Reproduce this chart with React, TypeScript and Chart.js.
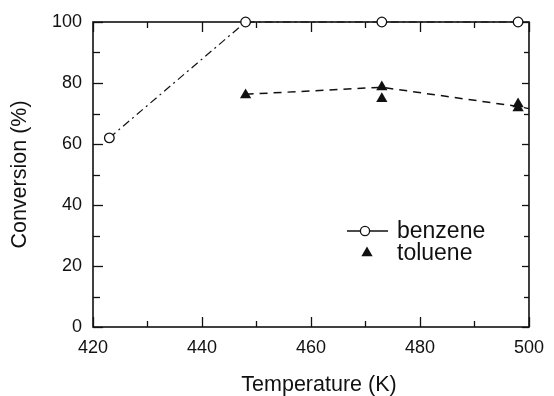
import React, { useEffect, useRef } from "react";
import { Chart, registerables } from "chart.js";

Chart.register(...registerables);

const benzeneTemps = [423, 448, 473, 498];
const benzeneConv = [62, 100, 100, 100];
const tolueneTemps = [448, 473, 473, 498, 498];
const tolueneConv = [76.1, 78.7, 74.8, 73.1, 71.8];
const tolueneFitTemps = [448, 473, 498, 500];
const tolueneFitConv = [76.3, 78.6, 72.3, 71.6];
const xTicks = [420, 440, 460, 480, 500];
const yTicks = [0, 20, 40, 60, 80, 100];
const xMinorTicks = [430, 450, 470, 490];
const yMinorTicks = [10, 30, 50, 70, 90];
const xTitle = "Temperature (K)";
const yTitle = "Conversion (%)";
const seriesNames = ["benzene", "toluene"];

const FONT = "'Liberation Sans', Arial, Helvetica, sans-serif";
const INK = "#111";

export default function App() {
  const ref = useRef<HTMLCanvasElement>(null);

  useEffect(() => {
    const canvas = ref.current;
    if (!canvas) return;

    const frame = {
      id: "frame",
      beforeDatasetsDraw(chart: any) {
        const { ctx, chartArea: ca, scales } = chart;
        const xs = scales.x;
        const ys = scales.y;
        ctx.save();
        ctx.strokeStyle = INK;
        ctx.lineWidth = 1.6;
        ctx.strokeRect(ca.left, ca.top, ca.right - ca.left, ca.bottom - ca.top);
        ctx.lineWidth = 1.3;
        const tick = (x1: number, y1: number, x2: number, y2: number) => {
          ctx.beginPath();
          ctx.moveTo(x1, y1);
          ctx.lineTo(x2, y2);
          ctx.stroke();
        };
        const xs2 = [...xTicks.map((v) => [v, 10]), ...xMinorTicks.map((v) => [v, 6])];
        xs2.forEach(([v, len]) => {
          const px = Math.round(xs.getPixelForValue(v)) + 0.5;
          tick(px, ca.bottom, px, ca.bottom - len);
          tick(px, ca.top, px, ca.top + len);
        });
        const ys2 = [...yTicks.map((v) => [v, 10, 7]), ...yMinorTicks.map((v) => [v, 7, 5])];
        ys2.forEach(([v, len, rlen]) => {
          const py = Math.round(ys.getPixelForValue(v)) + 0.5;
          tick(ca.left, py, ca.left + len, py);
          tick(ca.right, py, ca.right - rlen, py);
        });
        ctx.restore();
      },
      afterDatasetsDraw(chart: any) {
        const { ctx, chartArea: ca } = chart;
        ctx.save();
        ctx.fillStyle = INK;
        ctx.strokeStyle = INK;
        // titles
        ctx.font = `21.5px ${FONT}`;
        ctx.textAlign = "center";
        ctx.textBaseline = "middle";
        ctx.fillText(xTitle, (ca.left + ca.right) / 2 + 8, 385);
        ctx.save();
        ctx.translate(20, (ca.top + ca.bottom) / 2);
        ctx.rotate(-Math.PI / 2);
        ctx.fillText(yTitle, 0, 0);
        ctx.restore();
        // legend
        const lx = ca.left + 272;
        const ly1 = ca.top + 209;
        const ly2 = ca.top + 231;
        ctx.lineWidth = 1.3;
        ctx.beginPath();
        ctx.moveTo(lx - 18, ly1);
        ctx.lineTo(lx + 23, ly1);
        ctx.stroke();
        ctx.beginPath();
        ctx.arc(lx, ly1, 4.6, 0, Math.PI * 2);
        ctx.fillStyle = "#fff";
        ctx.fill();
        ctx.stroke();
        ctx.fillStyle = INK;
        const r = 6.5;
        ctx.beginPath();
        ctx.moveTo(lx + 2, ly2 - r);
        ctx.lineTo(lx + 2 + r * 0.866, ly2 + r * 0.5);
        ctx.lineTo(lx + 2 - r * 0.866, ly2 + r * 0.5);
        ctx.closePath();
        ctx.fill();
        ctx.font = `23px ${FONT}`;
        ctx.textAlign = "left";
        ctx.textBaseline = "middle";
        ctx.fillText(seriesNames[0], lx + 32, ly1 + 1);
        ctx.fillText(seriesNames[1], lx + 32, ly2 + 1);
        ctx.restore();
      },
    };

    const chart = new Chart(canvas, {
      type: "scatter",
      data: {
        datasets: [
          {
            label: "toluene fit",
            data: tolueneFitTemps.map((t, i) => ({ x: t, y: tolueneFitConv[i] })),
            showLine: true,
            borderColor: INK,
            borderWidth: 1.5,
            borderDash: [8, 6],
            pointRadius: 0,
            clip: false,
          } as any,
          {
            label: seriesNames[0],
            data: benzeneTemps.map((t, i) => ({ x: t, y: benzeneConv[i] })),
            showLine: true,
            borderColor: INK,
            borderWidth: 1.2,
            borderDash: [8, 4, 2, 4],
            pointStyle: "circle",
            pointRadius: 4.8,
            pointBorderWidth: 1.3,
            pointBackgroundColor: "#fff",
            pointBorderColor: INK,
            clip: false,
          } as any,
          {
            label: seriesNames[1],
            data: tolueneTemps.map((t, i) => ({ x: t, y: tolueneConv[i] })),
            showLine: false,
            pointStyle: "triangle",
            pointRadius: 6.5,
            pointBorderWidth: 0,
            pointBackgroundColor: INK,
            pointBorderColor: INK,
            clip: false,
          } as any,
        ],
      },
      options: {
        animation: false,
        responsive: false,
        maintainAspectRatio: false,
        layout: { padding: { top: 22, right: 17, left: 0, bottom: 0 } },
        plugins: { legend: { display: false }, tooltip: { enabled: false } },
        scales: {
          x: {
            type: "linear",
            min: 420,
            max: 500,
            grid: { display: false, drawTicks: false },
            border: { display: false },
            ticks: { padding: 10, color: INK, font: { family: FONT, size: 18 } },
            afterBuildTicks: (s: any) => {
              s.ticks = xTicks.map((v) => ({ value: v }));
            },
            afterFit: (s: any) => {
              s.height = 69;
            },
          },
          y: {
            type: "linear",
            min: 0,
            max: 100,
            grid: { display: false, drawTicks: false },
            border: { display: false },
            ticks: { padding: 11, color: INK, font: { family: FONT, size: 18 } },
            afterBuildTicks: (s: any) => {
              s.ticks = yTicks.map((v) => ({ value: v }));
            },
            afterFit: (s: any) => {
              s.width = 93;
            },
          },
        },
      } as any,
      plugins: [frame as any],
    });

    return () => chart.destroy();
  }, []);

  return (
    <div style={{ position: "absolute", left: 0, top: 0, width: 554, height: 396, background: "#fff" }}>
      <canvas ref={ref} width={554} height={396} style={{ display: "block" }} />
    </div>
  );
}
